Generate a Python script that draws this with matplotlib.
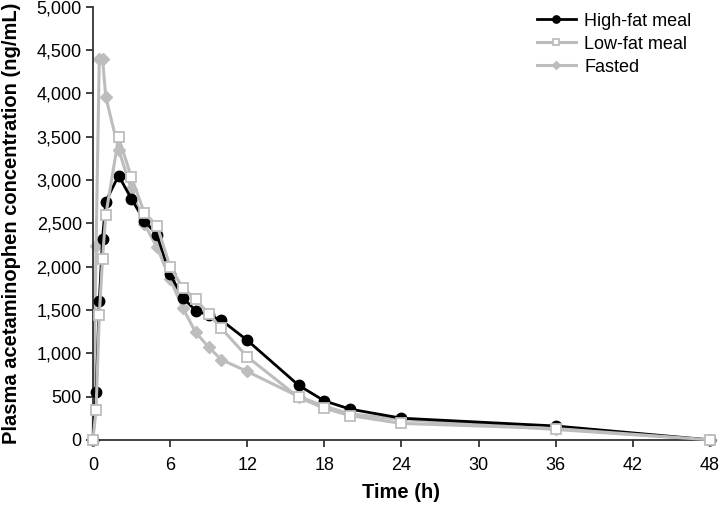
import matplotlib.pyplot as plt
from matplotlib.ticker import FuncFormatter

plt.rcParams['font.family'] = ['Liberation Sans', 'DejaVu Sans']

time_h = [0, 0.25, 0.5, 0.75, 1, 2, 3, 4, 5, 6, 7, 8, 9, 10, 12, 16, 18, 20, 24, 36, 48]
high_fat = [0, 550, 1600, 2320, 2750, 3050, 2780, 2530, 2360, 1910, 1640, 1490, 1440, 1380, 1150,
            630, 450, 355, 250, 160, 0]
low_fat = [0, 350, 1440, 2090, 2590, 3490, 3030, 2620, 2470, 2000, 1755, 1620, 1455, 1285, 960,
           490, 365, 280, 190, 130, 0]
fasted = [0, 2240, 4400, 4400, 3960, 3350, 2890, 2490, 2220, 1860, 1520, 1240, 1070, 925, 790,
          500, 390, 300, 235, 120, 0]

gray = '#bdbdbd'

fig = plt.figure(figsize=(7.2, 5.05), dpi=100)
ax = fig.add_axes([0.129, 0.129, 0.857, 0.858])

ax.plot(time_h, fasted, color=gray, lw=2.2, marker='D', ms=6.5, mfc=gray, mec=gray,
        label='Fasted', clip_on=False, zorder=2)
ax.plot(time_h, high_fat, color='black', lw=2, marker='o', ms=7.5, mfc='black', mec='black',
        label='High-fat meal', clip_on=False, zorder=3)
ax.plot(time_h, low_fat, color=gray, lw=2.2, marker='s', ms=7, mfc='white', mec=gray, mew=1.3,
        label='Low-fat meal', clip_on=False, zorder=4)

ax.set_xlim(0, 48)
ax.set_ylim(0, 5000)
ax.set_xticks(range(0, 49, 6))
ax.set_yticks(range(0, 5001, 500))
ax.yaxis.set_major_formatter(FuncFormatter(lambda v, p: f'{int(v):,}'))
ax.tick_params(direction='out', length=5, width=1.3, labelsize=13, color='#333333')
ax.tick_params(axis='x', pad=7)
ax.tick_params(axis='y', pad=3)

for s in ['top', 'right']:
    ax.spines[s].set_visible(False)
for s in ['left', 'bottom']:
    ax.spines[s].set_linewidth(1.3)
    ax.spines[s].set_color('#333333')

ax.set_xlabel('Time (h)', fontsize=14.5, fontweight='bold', labelpad=7)
ax.set_ylabel('Plasma acetaminophen concentration (ng/mL)', fontsize=14.5, fontweight='bold')
ax.yaxis.set_label_coords(-0.117, 0.5)

handles, labels = ax.get_legend_handles_labels()
order = [1, 2, 0]
ax.legend([handles[i] for i in order], [labels[i] for i in order], loc='upper left',
          bbox_to_anchor=(0.723, 1.007), bbox_transform=fig.transFigure,
          frameon=False, fontsize=13, handlelength=2.17, handletextpad=0.45,
          labelspacing=0.33, markerscale=0.7)

fig.savefig('out.png', dpi=100)
